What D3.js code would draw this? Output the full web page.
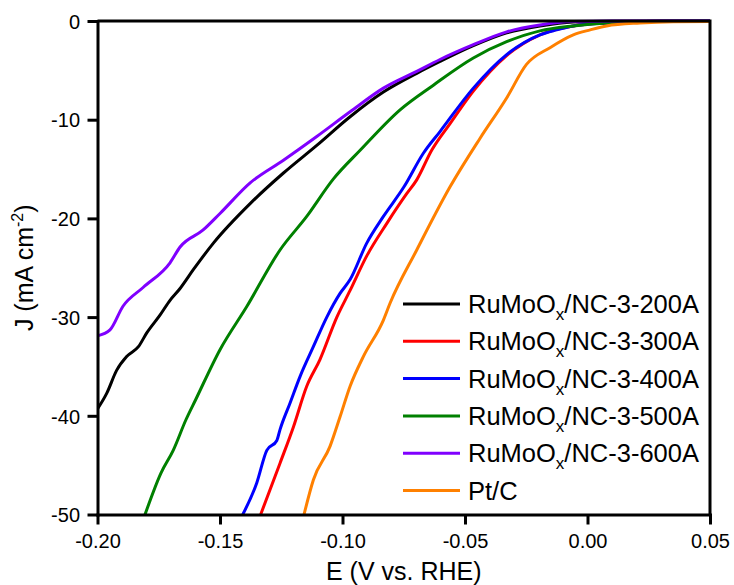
<!DOCTYPE html>
<html>
<head>
<meta charset="utf-8">
<script src="https://cdn.jsdelivr.net/npm/d3@7"></script>
<style>
body { margin: 0; background: #fff; }
svg { display: block; font-family: "Liberation Sans", Arial, sans-serif; }
</style>
</head>
<body>
<svg id="chart" width="734" height="585"></svg>
<script>
// series: E (V vs. RHE) and J (mA cm-2)
var e200 = [-0.2, -0.1962, -0.1922, -0.1881, -0.1833, -0.1799, -0.1745, -0.1704, -0.1663, -0.1609, -0.1527, -0.1377, -0.1241, -0.1105, -0.0969, -0.0833, -0.0697, -0.0602, -0.0466, -0.033, -0.0194, -0.0058, 0.01, 0.05]
var j200 = [-39.3, -37.7, -35.4, -34.0, -33.0, -31.6, -29.8, -28.3, -27.1, -25.2, -22.5, -18.5, -15.4, -12.6, -9.7, -7.2, -5.3, -4.1, -2.5, -1.2, -0.5, -0.1, -0.02, 0]

var e300 = [-0.1334, -0.1255, -0.12, -0.1146, -0.1092, -0.1023, -0.0969, -0.0901, -0.0819, -0.0738, -0.0697, -0.0636, -0.0561, -0.0466, -0.033, -0.0194, -0.0058, 0.0078, 0.03, 0.05]
var j300 = [-50, -44.8, -41.1, -37.0, -34.3, -30.0, -27.3, -23.8, -20.5, -17.5, -16.1, -13.1, -10.4, -7.1, -3.5, -1.4, -0.5, -0.2, -0.03, 0]

var e400 = [-0.1407, -0.135, -0.1309, -0.1268, -0.1255, -0.1214, -0.1173, -0.1119, -0.1064, -0.101, -0.0969, -0.0901, -0.0833, -0.0749, -0.067, -0.0602, -0.0466, -0.033, -0.0194, -0.0126, -0.0058, 0.0078, 0.03, 0.05]
var j400 = [-50, -46.8, -43.5, -42.5, -41.4, -38.7, -36.0, -33.0, -30.0, -27.6, -26.2, -22.5, -19.8, -16.8, -13.4, -11.2, -6.8, -3.4, -1.4, -0.9, -0.5, -0.2, -0.03, 0]

var e500 = [-0.1806, -0.1741, -0.1691, -0.1639, -0.16, -0.15, -0.139, -0.1255, -0.1146, -0.1037, -0.0928, -0.0765, -0.0629, -0.0466, -0.033, -0.0194, -0.0058, 0.0078, 0.03, 0.05]
var j500 = [-50, -45.8, -43.5, -40.4, -38.4, -33.3, -28.9, -23.2, -19.8, -16.0, -13.1, -9.0, -6.5, -3.75, -2.1, -1.0, -0.5, -0.2, -0.03, 0]

var e600 = [-0.2, -0.1949, -0.1896, -0.1814, -0.1704, -0.1663, -0.157, -0.15, -0.1377, -0.1241, -0.1105, -0.0969, -0.0833, -0.0697, -0.0602, -0.0466, -0.033, -0.0194, -0.0058, 0.01, 0.05]
var j600 = [-31.9, -31.3, -28.9, -27.0, -24.5, -22.9, -21.2, -19.5, -16.4, -14.1, -11.7, -9.2, -6.8, -5.1, -3.9, -2.4, -1.1, -0.4, -0.06, 0, 0]

var ePt = [-0.1157, -0.1119, -0.1051, -0.101, -0.0969, -0.0915, -0.0833, -0.0806, -0.0697, -0.0561, -0.0439, -0.033, -0.0249, -0.0153, -0.0058, 0.0011, 0.0078, 0.0214, 0.035, 0.05]
var jPt = [-50, -46.5, -43.1, -40.1, -37.0, -34.0, -30.3, -28.6, -23.2, -16.8, -11.9, -7.8, -4.4, -2.7, -1.4, -0.9, -0.5, -0.2, -0.07, -0.05]

var names = ["200A", "300A", "400A", "500A", "600A", "Pt/C"]
var colours = ["#000000", "#ff0000", "#0000ff", "#008000", "#8000ff", "#ff8000"]
var xTicks = [-0.20, -0.15, -0.10, -0.05, 0.00, 0.05]
var yTicks = [0, -10, -20, -30, -40, -50]

var series = [[e200, j200], [e300, j300], [e400, j400], [e500, j500], [e600, j600], [ePt, jPt]].map(function(s, i) {
    return {
        name: names[i],
        colour: colours[i],
        points: s[0].map(function(e, k) { return [e, s[1][k]] })
    }
})

var svg = d3.select("#chart")
var plotLeft = 97.5, plotRight = 710, plotTop = 21, plotBottom = 514.5

var x = d3.scaleLinear()
    .domain([-0.2, 0.05])
    .range([plotLeft, plotRight])

var y = d3.scaleLinear()
    .domain([-50, 0])
    .range([plotBottom, plotTop])

svg.append("defs").append("clipPath")
    .attr("id", "plot")
    .append("rect")
    .attr("x", plotLeft)
    .attr("y", plotTop - 2)
    .attr("width", plotRight - plotLeft)
    .attr("height", plotBottom - plotTop + 2)

var line = d3.line()
    .x(d => x(d[0]))
    .y(d => y(d[1]))
    .curve(d3.curveMonotoneX)

svg.append("g")
    .attr("clip-path", "url(#plot)")
    .selectAll("path")
    .data(series)
    .enter()
    .append("path")
    .attr("d", d => line(d.points))
    .attr("fill", "none")
    .attr("stroke", d => d.colour)
    .attr("stroke-width", 3)
    .attr("stroke-linejoin", "round")

// frame: top and right lines have no ticks
svg.append("path")
    .attr("d", "M" + plotLeft + "," + plotTop + "H" + plotRight + "V" + plotBottom)
    .attr("fill", "none")
    .attr("stroke", "black")
    .attr("stroke-width", 3)

var xMinor = d3.range(-0.175, 0.05, 0.05)
var yMinor = d3.range(-45, 0, 10)

var gx = svg.append("g")
    .attr("transform", "translate(0," + plotBottom + ")")
gx.call(d3.axisBottom(x).tickValues(xMinor).tickSize(5).tickFormat("").tickSizeOuter(0))
gx.call(d3.axisBottom(x).tickValues(xTicks).tickSize(10).tickSizeOuter(0).tickFormat(d => d.toFixed(2)))

var gy = svg.append("g")
    .attr("transform", "translate(" + plotLeft + ",0)")
gy.call(d3.axisLeft(y).tickValues(yMinor).tickSize(5).tickFormat("").tickSizeOuter(0))
gy.call(d3.axisLeft(y).tickValues(yTicks).tickSize(10).tickSizeOuter(0).tickFormat(d => String(d)))

svg.selectAll(".domain")
    .attr("stroke-width", 3)
    .attr("stroke-linecap", "square")
svg.selectAll(".tick line")
    .attr("stroke-width", 3)

gx.selectAll(".tick text")
    .attr("y", 33.5)
    .attr("dy", null)
    .attr("font-size", 20)
    .attr("font-family", null)
    .attr("fill", "black")

gy.selectAll(".tick text")
    .attr("x", -17.5)
    .attr("dy", "0.36em")
    .attr("font-size", 20)
    .attr("font-family", null)
    .attr("fill", "black")

svg.append("text")
    .attr("x", (plotLeft + plotRight) / 2)
    .attr("y", 580)
    .attr("text-anchor", "middle")
    .attr("font-size", 25)
    .text("E (V vs. RHE)")

var ylab = svg.append("text")
    .attr("transform", "translate(33," + ((plotTop + plotBottom) / 2) + ") rotate(-90)")
    .attr("text-anchor", "middle")
    .attr("font-size", 25)
ylab.append("tspan").text("J (mA cm")
ylab.append("tspan").attr("dy", -10).attr("font-size", 16).text("-2")
ylab.append("tspan").attr("dy", 10).text(")")

var legend = svg.append("g")
    .selectAll("g")
    .data(series)
    .enter()
    .append("g")
    .attr("transform", (d, i) => "translate(403," + (304 + i * 37.3) + ")")

legend.append("line")
    .attr("x1", 0)
    .attr("x2", 57)
    .attr("stroke", d => d.colour)
    .attr("stroke-width", 3)

var ltext = legend.append("text")
    .attr("x", 65)
    .attr("y", 9)
    .attr("font-size", 25.5)

ltext.each(function(d) {
    var t = d3.select(this)
    if (d.name == "Pt/C") {
        t.text(d.name)
        return
    }
    t.append("tspan").text("RuMoO")
    t.append("tspan").attr("dy", 7).attr("font-size", 17).text("x")
    t.append("tspan").attr("dy", -7).text("/NC-3-" + d.name)
})
</script>
</body>
</html>
